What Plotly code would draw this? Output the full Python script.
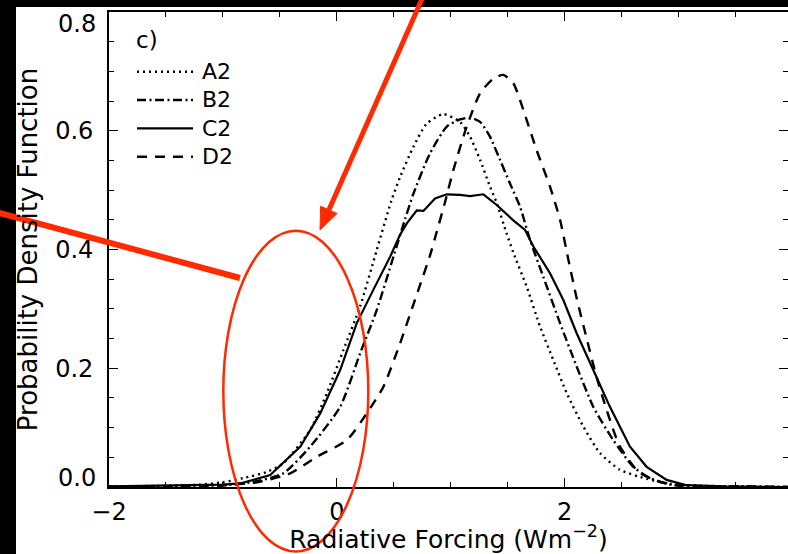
import plotly.graph_objects as go

# ---- data ----
a2_x = [-2.0, -1.5, -1.2, -1.0, -0.82, -0.62, -0.47, -0.234, -0.088, 0.058, 0.204, 0.35, 0.48, 0.555,
        0.672, 0.789, 0.935, 1.081, 1.169, 1.257, 1.344, 1.404, 1.49, 1.549, 1.667, 1.784, 1.9, 2.018,
        2.163, 2.31, 2.485, 2.66, 2.895, 3.2, 3.6, 3.96]
a2_y = [0.001, 0.002, 0.004, 0.008, 0.015, 0.025, 0.040, 0.096, 0.158, 0.231, 0.304, 0.399, 0.483, 0.522,
        0.573, 0.612, 0.628, 0.615, 0.590, 0.551, 0.506, 0.478, 0.427, 0.395, 0.337, 0.270, 0.214, 0.158,
        0.102, 0.057, 0.029, 0.017, 0.006, 0.002, 0.001, 0.0]

b2_x = [-2.0, -1.5, -1.0, -0.75, -0.47, -0.234, 0.029, 0.204, 0.35, 0.497, 0.60, 0.672, 0.818, 0.965,
        1.081, 1.169, 1.257, 1.344, 1.432, 1.52, 1.608, 1.696, 1.812, 1.959, 2.105, 2.251, 2.426, 2.602,
        2.748, 2.953, 3.3, 3.96]
b2_y = [0.0, 0.001, 0.003, 0.008, 0.023, 0.068, 0.135, 0.225, 0.298, 0.388, 0.452, 0.494, 0.562, 0.607,
        0.619, 0.622, 0.615, 0.590, 0.551, 0.511, 0.472, 0.416, 0.354, 0.276, 0.203, 0.135, 0.079, 0.034,
        0.015, 0.003, 0.001, 0.0]

c2_x = [-2.0, -1.5, -1.0, -0.85, -0.585, -0.32, -0.146, 0.029, 0.175, 0.32, 0.42, 0.468, 0.555, 0.614,
        0.702, 0.76, 0.862, 0.965, 1.081, 1.169, 1.286, 1.404, 1.549, 1.652, 1.725, 1.871, 1.988, 2.105,
        2.251, 2.397, 2.573, 2.719, 2.895, 3.07, 3.4, 3.96]
c2_y = [0.001, 0.002, 0.004, 0.006, 0.020, 0.068, 0.124, 0.197, 0.276, 0.332, 0.371, 0.388, 0.425, 0.444,
        0.466, 0.465, 0.486, 0.493, 0.492, 0.490, 0.493, 0.475, 0.449, 0.433, 0.405, 0.360, 0.315, 0.259,
        0.197, 0.135, 0.068, 0.034, 0.012, 0.003, 0.001, 0.0]

d2_x = [-2.0, -1.5, -1.0, -0.7, -0.41, -0.175, 0.088, 0.263, 0.409, 0.555, 0.65, 0.73, 0.818, 0.877,
        0.95, 1.023, 1.14, 1.257, 1.374, 1.461, 1.549, 1.637, 1.754, 1.871, 1.959, 2.03, 2.105, 2.193,
        2.28, 2.368, 2.48, 2.65, 2.85, 3.1, 3.5, 3.96]
d2_y = [0.0, 0.001, 0.003, 0.008, 0.023, 0.051, 0.079, 0.124, 0.169, 0.242, 0.295, 0.34, 0.39, 0.43,
        0.48, 0.534, 0.607, 0.663, 0.688, 0.694, 0.680, 0.635, 0.567, 0.506, 0.450, 0.385, 0.318, 0.25,
        0.185, 0.13, 0.07, 0.025, 0.008, 0.002, 0.001, 0.0]

series_names = ["A2", "B2", "C2", "D2"]
y_tick_vals = [0.0, 0.2, 0.4, 0.6, 0.8]
y_tick_text = ["0.0", "0.2", "0.4", "0.6", "0.8"]
x_title = "Radiative Forcing (Wm<sup>−2</sup>)"
y_title = "Probability Density Function"
panel_label = "c)"

# ---- figure ----
W, H = 788, 554
ML, MR, MT, MB = 109, 0, 12, 67
PW, PH = W - ML - MR, H - MT - MB
FONT = "DejaVu Sans"
RED = "#ff2a00"


def px_x(p):
    return (p - ML) / PW


def px_y(p):
    return (H - MB - p) / PH


styles = [
    dict(dash="2px,4px", width=2.4, shape="spline"),
    dict(dash="9px,3.5px,2px,3.5px", width=2.4, shape="spline"),
    dict(dash="solid", width=2.2, shape="linear"),
    dict(dash="10px,8px", width=2.4, shape="spline"),
]
xs = [a2_x, b2_x, c2_x, d2_x]
ys = [a2_y, b2_y, c2_y, d2_y]

fig = go.Figure()
for name, x, y, st in zip(series_names, xs, ys, styles):
    fig.add_trace(go.Scatter(
        x=x, y=y, mode="lines", name=name, showlegend=False,
        line=dict(color="black", width=st["width"], dash=st["dash"], shape=st["shape"],
                  smoothing=0.6 if st["shape"] == "spline" else None),
    ))

axis_common = dict(showgrid=False, zeroline=False)

# legend (key lines + labels, to match the original spacing)
legend_rows_px = [71.7, 100.0, 128.3, 156.7]
legend_shapes = []
legend_annots = []
for name, st, ry in zip(series_names, styles, legend_rows_px):
    legend_shapes.append(dict(type="line", xref="paper", yref="paper", x0=px_x(137), x1=px_x(193),
                              y0=px_y(ry), y1=px_y(ry),
                              line=dict(color="black", width=st["width"], dash=st["dash"])))
    legend_annots.append(dict(text=name, xref="paper", yref="paper", x=px_x(200), y=px_y(ry),
                              xanchor="left", yanchor="middle", showarrow=False, font=dict(size=22)))

# end tick labels of the y axis sit inside the frame in the original (0.0 raised, 0.8 lowered)
end_label_annots = [
    dict(text=y_tick_text[0], xref="paper", yref="y", x=px_x(98), y=y_tick_vals[0], yshift=9,
         xanchor="right", yanchor="middle", showarrow=False, font=dict(size=24)),
    dict(text=y_tick_text[4], xref="paper", yref="y", x=px_x(98), y=y_tick_vals[4], yshift=-12,
         xanchor="right", yanchor="middle", showarrow=False, font=dict(size=24)),
]

# red pointer arrow (tail above the top edge, tip near the ellipse)
tail = (426.0, -10.0)
tip = (320.0, 230.0)
dx, dy = tail[0] - tip[0], tail[1] - tip[1]
L = (dx * dx + dy * dy) ** 0.5
ux, uy = dx / L, dy / L
head_len, head_half = 22.0, 9.0
base = (tip[0] + head_len * ux, tip[1] + head_len * uy)
c1 = (base[0] - head_half * uy, base[1] + head_half * ux)
c2 = (base[0] + head_half * uy, base[1] - head_half * ux)
head_path = "M {:.5f},{:.5f} L {:.5f},{:.5f} L {:.5f},{:.5f} Z".format(
    px_x(tip[0]), px_y(tip[1]), px_x(c1[0]), px_y(c1[1]), px_x(c2[0]), px_y(c2[1]))

fig.update_layout(
    width=W, height=H,
    margin=dict(l=ML, r=MR, t=MT, b=MB, autoexpand=False),
    paper_bgcolor="white", plot_bgcolor="white",
    font=dict(family=FONT, size=22, color="black"),
    showlegend=False,
    xaxis=dict(range=[-2, 3.96], tick0=0, dtick=2, ticks="inside", ticklen=9, tickwidth=1.2,
               tickcolor="black", showline=True, linecolor="black", linewidth=1.6, mirror="ticks",
               minor=dict(tick0=0, dtick=0.5, ticks="inside", ticklen=5, tickwidth=1.2, tickcolor="black"),
               tickfont=dict(size=24), ticklabelstandoff=2,
               title=dict(text=x_title, font=dict(size=25), standoff=4),
               **axis_common),
    yaxis=dict(range=[0, 0.8], tickmode="array", tickvals=y_tick_vals[1:4], ticktext=y_tick_text[1:4],
               ticks="inside", ticklen=9, tickwidth=1.2, tickcolor="black",
               showline=True, linecolor="black", linewidth=1.6, mirror="ticks",
               minor=dict(tick0=0, dtick=0.05, ticks="inside", ticklen=5, tickwidth=1.2, tickcolor="black"),
               tickfont=dict(size=24), ticklabelstandoff=9,
               title=dict(text=y_title, font=dict(size=26), standoff=10),
               **axis_common),
    shapes=legend_shapes + [
        # black borders of the original screenshot
        dict(type="rect", xref="paper", yref="paper", x0=px_x(-10), x1=px_x(16), y0=px_y(H + 10), y1=px_y(-10),
             fillcolor="black", line=dict(width=0), layer="above"),
        dict(type="rect", xref="paper", yref="paper", x0=px_x(-10), x1=px_x(W + 10), y0=px_y(7), y1=px_y(-10),
             fillcolor="black", line=dict(width=0), layer="above"),
        # red highlight ellipse, pointer line and arrow
        dict(type="circle", xref="paper", yref="paper", x0=px_x(223.3), x1=px_x(368.3),
             y0=px_y(551.5), y1=px_y(230.7), line=dict(color=RED, width=2.5), layer="above"),
        dict(type="line", xref="paper", yref="paper", x0=px_x(-2), y0=px_y(212.5), x1=px_x(240), y1=px_y(278),
             line=dict(color=RED, width=6), layer="above"),
        dict(type="line", xref="paper", yref="paper", x0=px_x(tail[0]), y0=px_y(tail[1]),
             x1=px_x(base[0] - 2 * ux), y1=px_y(base[1] - 2 * uy),
             line=dict(color=RED, width=5), layer="above"),
        dict(type="path", xref="paper", yref="paper", path=head_path, fillcolor=RED,
             line=dict(color=RED, width=1), layer="above"),
    ],
    annotations=legend_annots + end_label_annots + [
        dict(text=panel_label, xref="paper", yref="paper", x=px_x(134), y=px_y(40),
             xanchor="left", yanchor="middle", showarrow=False, font=dict(size=23)),
    ],
)

fig.write_html("out.html")
